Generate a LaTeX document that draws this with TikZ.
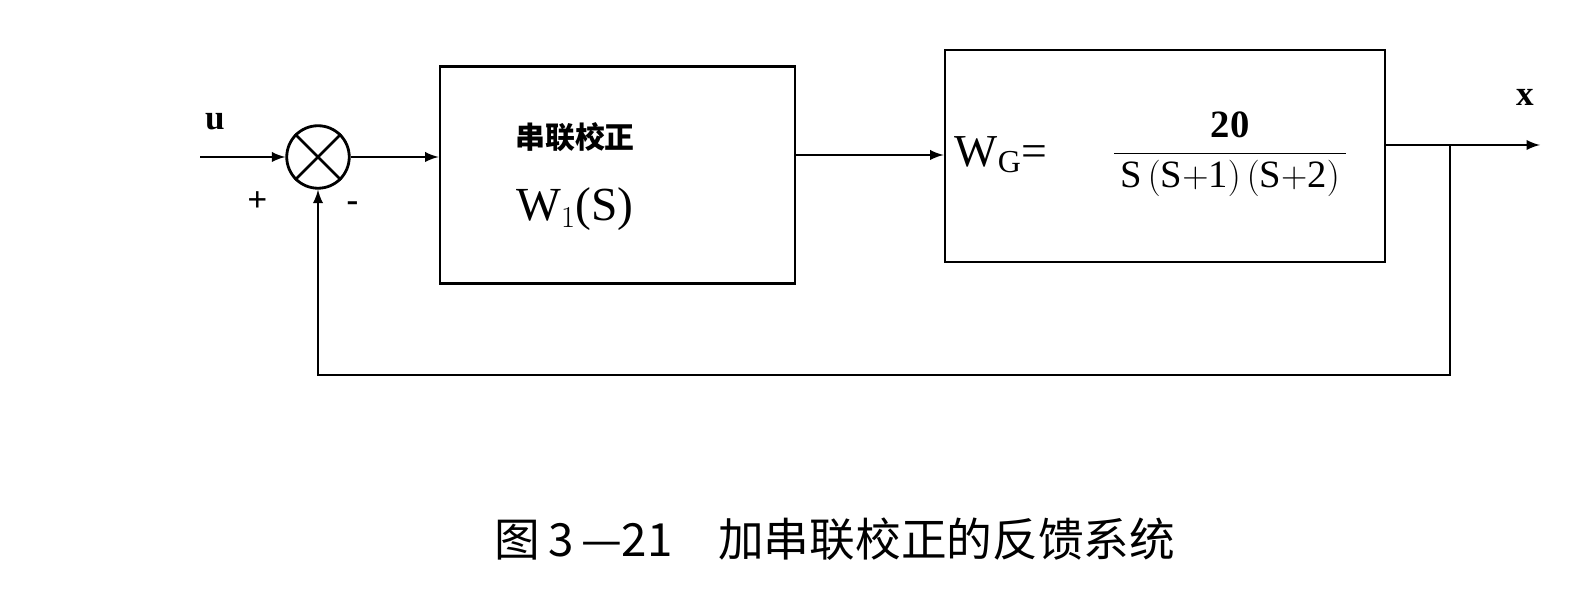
\documentclass[tikz,border=0pt]{standalone}
\usepackage{fontspec}
\setmainfont{Liberation Serif}
\newfontfamily\cjk{Noto Sans CJK SC}
\usetikzlibrary{positioning}
\begin{document}
\begin{tikzpicture}[>=latex, line width=1.6pt]
    \tikzstyle{block}=[draw, inner sep=0pt]
    \tikzstyle{sumnode}=[draw, circle, minimum size=1.25cm, inner sep=0pt]
    \tikzstyle{lbl}=[font=\bfseries\fontsize{20}{22}\selectfont]
    \useasboundingbox (0,0) rectangle (31.66,12.04);

    % Summing junction
    \node[sumnode] (sum) at (6.36,8.9) {};
    \draw (sum.north west) -- (sum.south east);
    \draw (sum.north east) -- (sum.south west);
    \coordinate (in) at (4.0,8.9);

    % Blocks
    \node[block, minimum width=7.1cm, minimum height=4.34cm] (corr) at (12.35,8.54) {};
    \node[font=\cjk\bfseries\fontsize{17}{19}\selectfont] at (11.5,9.3) {串联校正};
    \node[font=\fontsize{27}{29}\selectfont] at (11.5,7.85) {W$_1$(S)};
    \node[block, minimum width=8.8cm, minimum height=4.24cm] (plant) at (23.3,8.92) {};
    \node[font=\fontsize{26}{28}\selectfont, anchor=west] at (18.95,8.95) {W$_{\mathrm{G}}$=};
    \node[font=\fontsize{22}{24}\selectfont] at (24.6,8.95)
        {$\displaystyle\frac{\mathbf{20}}{\,\mathrm{S\,(S{+}1)\,(S{+}2)}\,}$};

    % Output and feedback
    \coordinate (out) at (30.8,9.14);
    \coordinate (br) at (29.0,9.14);
    \coordinate (fb) at (29.0,4.54);

    \draw[->] (in) -- (sum);
    \draw[->] (sum) -- (corr.west |- sum);
    \draw[->] (corr.east |- 0,8.94) -- (plant.west |- 0,8.94);
    \draw[->] (plant.east |- out) -- (out);
    \draw[->] (br) -- (fb) -| (sum.south);

    % Labels
    \node[lbl] at (4.3,9.6) {u};
    \node[lbl] at (30.5,10.1) {x};
    \node[lbl] at (5.15,8.0) {+};
    \node[lbl] at (7.05,7.9) {-};

    % Caption
    \node[font=\cjk\fontsize{26}{28}\selectfont] at (16.7,1.25) {图\,3\,—21\quad 加串联校正的反馈系统};
\end{tikzpicture}
\end{document}
